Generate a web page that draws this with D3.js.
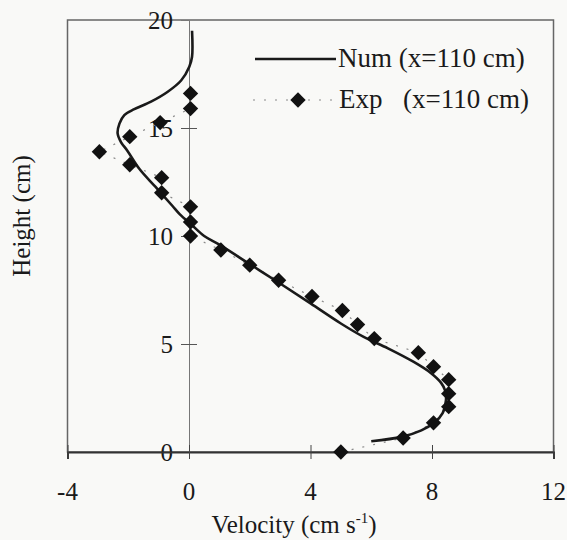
<!DOCTYPE html>
<meta charset="utf-8">
<script src="https://d3js.org/d3.v7.min.js"></script>
<style>
    body { margin: 0; background: #f9f9f7; }
    text { font-family: "Liberation Serif", "DejaVu Serif", serif; fill: #1a1a1a; }
</style>
<div id="chart"></div>
<script>
    // measured values (velocity cm/s, height cm)
    var numVel = [6.0, 7.0, 7.65, 8.07, 8.35, 8.46, 8.43, 8.3, 7.97, 7.4, 6.55, 5.75, 5.0, 4.0, 3.0, 2.0, 1.0, 0.5, 0.1, -0.3, -0.55, -1.1, -1.63, -2.03, -2.24, -2.35, -2.29, -2.13, -1.8, -1.25, -0.7, -0.26, 0.01, 0.1, 0.1];
    var numHeight = [0.5, 0.7, 1.0, 1.35, 1.8, 2.4, 2.85, 3.2, 3.65, 4.17, 4.8, 5.33, 5.95, 6.88, 7.8, 8.7, 9.6, 10.0, 10.5, 11.0, 11.4, 12.27, 13.1, 13.95, 14.35, 14.75, 15.2, 15.6, 15.87, 16.22, 16.68, 17.2, 17.84, 18.3, 19.5];

    var expVel = [5.0, 7.05, 8.05, 8.55, 8.55, 8.55, 8.05, 7.55, 6.1, 5.55, 5.05, 4.05, 2.95, 2.0, 1.05, 0.05, 0.05, 0.05, -0.9, -0.9, -1.95, -2.95, -1.95, -0.95, 0.05, 0.05];
    var expHeight = [0, 0.65, 1.35, 2.1, 2.7, 3.35, 3.95, 4.6, 5.25, 5.9, 6.55, 7.2, 7.95, 8.65, 9.35, 10.0, 10.65, 11.35, 12.0, 12.7, 13.3, 13.9, 14.6, 15.25, 15.9, 16.6];

    var xTicks = [-4, 0, 4, 8, 12];
    var yTicks = [0, 5, 10, 15, 20];

    var numData = numVel.map(function(v, i) { return {v: v, h: numHeight[i]}; });
    var expData = expVel.map(function(v, i) { return {v: v, h: expHeight[i]}; });

    var W = 567, H = 540;
    var margin = {top: 20, right: 13.5, bottom: 88, left: 67.5};
    var width = W - margin.left - margin.right,
        height = H - margin.top - margin.bottom;

    var svg = d3.select("#chart").append("svg")
        .attr("width", W).attr("height", H);
    var g = svg.append("g")
        .attr("transform", "translate(" + margin.left + "," + margin.top + ")");

    var x = d3.scaleLinear().domain([-4, 12]).range([0, width]);
    var y = d3.scaleLinear().domain([0, 20]).range([height, 0]);

    // frame
    g.append("rect")
        .attr("width", width).attr("height", height)
        .attr("fill", "none").attr("stroke", "#666").attr("stroke-width", 1.5);

    // vertical axis at velocity 0
    var yAxis = g.append("g")
        .attr("transform", "translate(" + x(0) + ",0)")
        .call(d3.axisLeft(y).tickValues(yTicks).tickSize(8).tickFormat(""));
    yAxis.select(".domain").attr("stroke", "#777").attr("stroke-width", 1);
    yAxis.selectAll(".tick line").attr("x2", 8).attr("x1", -8).attr("stroke", "#555");
    yAxis.selectAll(".tick").filter(function(d) { return d == 0 || d == 20; }).select("line").remove();

    // y tick labels
    g.selectAll(".ylab").data(yTicks).enter().append("text")
        .attr("x", x(0) - 16)
        .attr("y", function(d) { return y(d); })
        .attr("dy", "0.35em")
        .attr("text-anchor", "end")
        .style("font-size", "25px")
        .text(function(d) { return d; });

    // bottom axis
    var xAxis = g.append("g")
        .attr("transform", "translate(0," + height + ")")
        .call(d3.axisBottom(x).tickValues(xTicks).tickSize(7).tickFormat(""));
    xAxis.select(".domain").attr("stroke", "#333").attr("stroke-width", 2);
    xAxis.selectAll(".tick line").attr("y1", -7).attr("stroke", "#444");

    g.selectAll(".xlab").data(xTicks).enter().append("text")
        .attr("x", function(d) { return x(d); })
        .attr("y", height + 48)
        .attr("text-anchor", "middle")
        .style("font-size", "25px")
        .text(function(d) { return d; });

    // experimental dotted connector
    g.append("path")
        .datum(expData)
        .attr("fill", "none")
        .attr("stroke", "#8a8a8a")
        .attr("stroke-width", 1.2)
        .attr("stroke-dasharray", "2,9")
        .attr("d", d3.line().x(function(d) { return x(d.v); }).y(function(d) { return y(d.h); }));

    // numerical line
    g.append("path")
        .datum(numData)
        .attr("fill", "none")
        .attr("stroke", "#1a1a1a")
        .attr("stroke-width", 2.6)
        .attr("d", d3.line().curve(d3.curveCatmullRom)
            .x(function(d) { return x(d.v); }).y(function(d) { return y(d.h); }));

    // diamonds
    var diamond = d3.symbol().type(d3.symbolSquare).size(118);
    g.selectAll(".pt").data(expData).enter().append("path")
        .attr("d", diamond)
        .attr("fill", "#111")
        .attr("transform", function(d) { return "translate(" + x(d.v) + "," + y(d.h) + ") rotate(45)"; });

    // legend
    var leg = svg.append("g");
    leg.append("line").attr("x1", 255).attr("x2", 336).attr("y1", 59).attr("y2", 59)
        .attr("stroke", "#1a1a1a").attr("stroke-width", 2.6);
    leg.append("text").attr("x", 338).attr("y", 67).style("font-size", "27px").text("Num (x=110 cm)");
    leg.append("line").attr("x1", 253).attr("x2", 338).attr("y1", 100).attr("y2", 100)
        .attr("stroke", "#8a8a8a").attr("stroke-width", 1.2).attr("stroke-dasharray", "2,9");
    leg.append("path").attr("d", diamond).attr("fill", "#111")
        .attr("transform", "translate(298,100) rotate(45)");
    leg.append("text").attr("x", 339).attr("y", 108).style("font-size", "27px").text("Exp");
    leg.append("text").attr("x", 529).attr("y", 108).attr("text-anchor", "end").style("font-size", "27px").text("(x=110 cm)");

    // axis titles
    var xt = svg.append("text")
        .attr("x", 294).attr("y", 533)
        .attr("text-anchor", "middle")
        .style("font-size", "25px");
    xt.append("tspan").text("Velocity (cm s");
    xt.append("tspan").attr("dy", -10).style("font-size", "15px").text("-1");
    xt.append("tspan").attr("dy", 10).text(")");

    svg.append("text")
        .attr("transform", "translate(30,216) rotate(-90)")
        .attr("text-anchor", "middle")
        .style("font-size", "25px")
        .text("Height (cm)");
</script>
